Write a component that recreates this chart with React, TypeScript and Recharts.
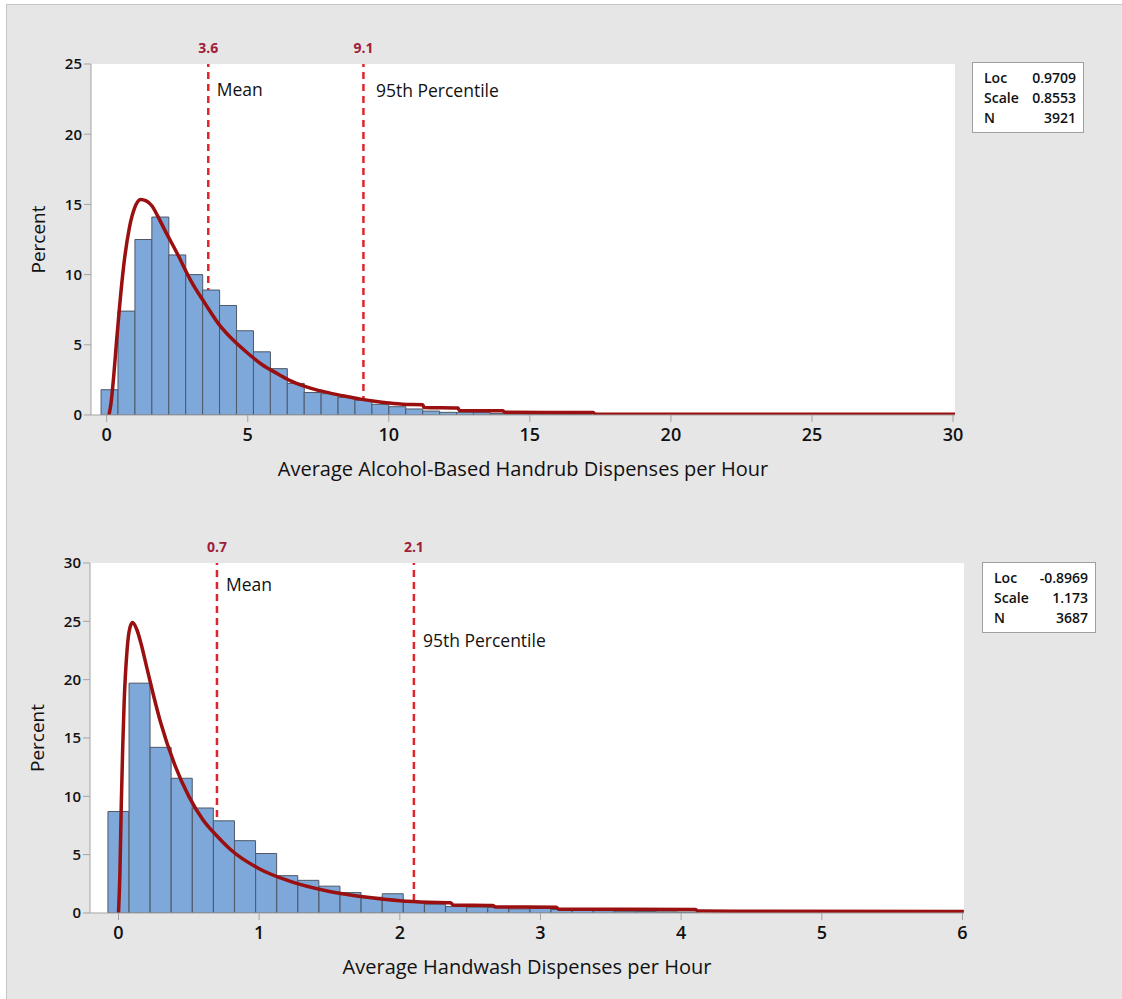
import React from 'react';
import { ComposedChart, Bar, Line, XAxis, YAxis, ReferenceLine, CartesianGrid, Label } from 'recharts';

const FONT = '"Open Sans", "Noto Sans", "DejaVu Sans", sans-serif';

// ---------- Panel 1: alcohol-based handrub ----------
const handrubBinMids = [0.1, 0.7, 1.3, 1.9, 2.5, 3.1, 3.7, 4.3, 4.9, 5.5, 6.1, 6.7, 7.3, 7.9, 8.5, 9.1, 9.7, 10.3, 10.9, 11.5, 12.1, 12.7, 13.3, 13.9, 14.5, 15.1, 15.7, 16.3, 16.9];
const handrubPercent = [1.8, 7.4, 12.5, 14.1, 11.4, 10.0, 8.9, 7.8, 6.0, 4.5, 3.3, 2.25, 1.6, 1.52, 1.25, 1.05, 0.76, 0.59, 0.43, 0.28, 0.19, 0.19, 0.17, 0.1, 0.08, 0.06, 0.05, 0.04, 0.03];
const handrubFitX = [0.08, 0.15, 0.25, 0.35, 0.45, 0.6, 0.8, 1.0, 1.2, 1.4, 1.6, 1.8, 2.0, 2.5, 3.0, 3.5, 4.0, 4.5, 5.0, 5.5, 6.0, 6.5, 7.0, 7.5, 8.0, 8.5, 9.0, 9.5, 10.0, 10.5, 11.2, 11.25, 12.45, 12.5, 14.05, 14.1, 17.25, 17.3, 30.07];
const handrubFitY = [0, 0.8, 2.8, 5.3, 7.6, 10.6, 13.3, 14.8, 15.35, 15.25, 14.9, 14.2, 13.4, 11.5, 9.5, 7.9, 6.4, 5.3, 4.4, 3.6, 3.0, 2.45, 2.05, 1.75, 1.52, 1.32, 1.13, 0.98, 0.86, 0.77, 0.73, 0.53, 0.5, 0.32, 0.3, 0.2, 0.17, 0.07, 0.05];
const handrubXTicks = [0, 5, 10, 15, 20, 25, 30];
const handrubYTicks = [0, 5, 10, 15, 20, 25];
const handrubMean = 3.6;
const handrubP95 = 9.1;
const handrubStatLabels = ['Loc', 'Scale', 'N'];
const handrubStatValues = ['0.9709', '0.8553', '3921'];

// ---------- Panel 2: handwash ----------
const handwashBinMids = [0, 0.15, 0.3, 0.45, 0.6, 0.75, 0.9, 1.05, 1.2, 1.35, 1.5, 1.65, 1.8, 1.95, 2.1, 2.25, 2.4, 2.55, 2.7, 2.85, 3.0, 3.15, 3.3, 3.45, 3.6, 3.75, 3.9, 4.05];
const handwashPercent = [8.7, 19.7, 14.2, 11.55, 9.0, 7.9, 6.2, 5.1, 3.2, 2.8, 2.3, 1.75, 1.35, 1.65, 0.9, 0.75, 0.55, 0.5, 0.48, 0.35, 0.4, 0.3, 0.22, 0.2, 0.15, 0.12, 0.1, 0.08];
const handwashFitX = [0, 0.01, 0.02, 0.03, 0.04, 0.06, 0.08, 0.1, 0.13, 0.16, 0.2, 0.25, 0.3, 0.4, 0.5, 0.6, 0.7, 0.8, 1.0, 1.2, 1.5, 1.8, 2.0, 2.2, 2.36, 2.38, 2.66, 2.68, 3.11, 3.13, 4.1, 4.12, 6.01];
const handwashFitY = [0, 3.4, 9.4, 14.2, 18.0, 22.4, 24.4, 24.9, 24.3, 23.1, 21.1, 18.6, 16.3, 12.7, 10.0, 8.0, 6.6, 5.4, 3.8, 2.8, 1.85, 1.3, 1.05, 0.92, 0.88, 0.68, 0.64, 0.52, 0.49, 0.33, 0.3, 0.17, 0.12];
const handwashXTicks = [0, 1, 2, 3, 4, 5, 6];
const handwashYTicks = [0, 5, 10, 15, 20, 25, 30];
const handwashMean = 0.7;
const handwashP95 = 2.1;
const handwashStatLabels = ['Loc', 'Scale', 'N'];
const handwashStatValues = ['-0.8969', '1.173', '3687'];

const BAR_FILL = '#7ea7da';
const BAR_STROKE = '#4e5866';
const FIT_COLOR = '#9a0f10';
const REF_COLOR = '#e0262c';
const REF_TEXT = '#a0203a';
const AXIS_COLOR = '#a3a3a3';

type PanelProps = {
  width: number;
  height: number;
  margin: { top: number; right: number; bottom: number; left: number };
  mids: number[];
  pct: number[];
  fitX: number[];
  fitY: number[];
  xDomain: [number, number];
  yDomain: [number, number];
  xTicks: number[];
  yTicks: number[];
  xTitle: string;
  mean: number;
  p95: number;
  meanLabel: { dx: number; dy: number };
  p95Label: { dx: number; dy: number };
};

const refLabel = (value: string, text: string, dx: number, dy: number) => (props: any) => {
  const vb = props.viewBox || {};
  const x = vb.x ?? 0;
  const y = vb.y ?? 0;
  return (
    <g>
      <text x={x} y={y - 11} textAnchor="middle" fill={REF_TEXT} fontSize={14} fontWeight={700} fontFamily={FONT}>
        {value}
      </text>
      <text x={x + dx} y={y + dy} fill="#111" fontSize={17.5} fontFamily={FONT}>
        {text}
      </text>
    </g>
  );
};

function HistPanel(p: PanelProps) {
  const barData = p.mids.map((m, i) => ({ mid: m, pct: p.pct[i] }));
  const fitData = p.fitX.map((x, i) => ({ x, y: p.fitY[i] }));
  return (
    <ComposedChart width={p.width} height={p.height} data={barData} margin={p.margin} barCategoryGap={0} barGap={0}>
      <CartesianGrid horizontal={false} vertical={false} fill="#ffffff" />
      <XAxis xAxisId="bins" dataKey="mid" type="number" domain={p.xDomain} allowDataOverflow hide height={0} />
      <XAxis
        xAxisId="main"
        dataKey="x"
        type="number"
        domain={p.xDomain}
        allowDataOverflow
        ticks={p.xTicks}
        interval={0}
        height={62}
        tickSize={7}
        tickMargin={6}
        stroke={AXIS_COLOR}
        tick={{ fontSize: 18, fill: '#111', fontFamily: FONT, fontWeight: 600 }}
      >
        <Label value={p.xTitle} position="insideBottom" offset={1} style={{ fontSize: 20, fill: '#111', fontFamily: FONT, fontWeight: 500 }} />
      </XAxis>
      <XAxis xAxisId="top" orientation="top" type="number" domain={p.xDomain} allowDataOverflow height={0} tick={false} tickLine={false} stroke={AXIS_COLOR} />
      <YAxis
        type="number"
        domain={p.yDomain}
        allowDataOverflow
        ticks={p.yTicks}
        interval={0}
        width={61}
        tickSize={7}
        tickMargin={2}
        stroke={AXIS_COLOR}
        tick={{ fontSize: 15, fill: '#111', fontFamily: FONT, fontWeight: 600 }}
      >
        <Label value="Percent" angle={-90} position="insideLeft" offset={8} style={{ textAnchor: 'middle', fontSize: 19, fill: '#111', fontFamily: FONT, fontWeight: 500 }} />
      </YAxis>
      <YAxis yAxisId="right" orientation="right" type="number" domain={[0, 1]} width={0} tick={false} tickLine={false} stroke={AXIS_COLOR} />
      <ReferenceLine
        xAxisId="main"
        x={p.mean}
        stroke={REF_COLOR}
        strokeWidth={2.5}
        strokeDasharray="7 5"
        zIndex={250}
        label={refLabel(String(p.mean), 'Mean', p.meanLabel.dx, p.meanLabel.dy)}
      />
      <ReferenceLine
        xAxisId="main"
        x={p.p95}
        stroke={REF_COLOR}
        strokeWidth={2.5}
        strokeDasharray="7 5"
        zIndex={250}
        label={refLabel(String(p.p95), '95th Percentile', p.p95Label.dx, p.p95Label.dy)}
      />
      <Bar xAxisId="bins" dataKey="pct" fill={BAR_FILL} stroke={BAR_STROKE} strokeWidth={1} isAnimationActive={false} />
      <Line
        xAxisId="main"
        data={fitData}
        dataKey="y"
        type="monotone"
        stroke={FIT_COLOR}
        strokeWidth={3.5}
        dot={false}
        activeDot={false}
        isAnimationActive={false}
      />
    </ComposedChart>
  );
}

function StatsBox({ left, top, width, labels, values }: { left: number; top: number; width: number; labels: string[]; values: string[] }) {
  return (
    <div
      style={{
        position: 'absolute',
        left,
        top,
        width,
        height: 71,
        boxSizing: 'border-box',
        background: '#fff',
        border: '1px solid #a0a0a0',
        padding: '5px 7px 0 11px',
        fontFamily: FONT,
        fontSize: 14,
        fontWeight: 600,
        color: '#111',
        lineHeight: '20px',
      }}
    >
      {labels.map((l, i) => (
        <div key={l} style={{ display: 'flex', justifyContent: 'space-between' }}>
          <span>{l}</span>
          <span>{values[i]}</span>
        </div>
      ))}
    </div>
  );
}

export default function App() {
  return (
    <div style={{ position: 'absolute', left: 0, top: 0, width: 1122, height: 999, background: '#ffffff', overflow: 'hidden' }}>
      <div
        style={{
          position: 'absolute',
          left: 6,
          top: 4,
          width: 1116,
          height: 995,
          boxSizing: 'border-box',
          background: '#e6e6e6',
          borderLeft: '1px solid #c4c4c4',
          borderTop: '1px solid #c4c4c4',
        }}
      />
      <div style={{ position: 'absolute', left: 0, top: 0 }}>
        <HistPanel
          width={1122}
          height={500}
          margin={{ top: 64, right: 167, bottom: 23, left: 30 }}
          mids={handrubBinMids}
          pct={handrubPercent}
          fitX={handrubFitX}
          fitY={handrubFitY}
          xDomain={[-0.557, 30.07]}
          yDomain={[0, 25]}
          xTicks={handrubXTicks}
          yTicks={handrubYTicks}
          xTitle="Average Alcohol-Based Handrub Dispenses per Hour"
          mean={handrubMean}
          p95={handrubP95}
          meanLabel={{ dx: 8.5, dy: 31.5 }}
          p95Label={{ dx: 12.5, dy: 32.5 }}
        />
      </div>
      <div style={{ position: 'absolute', left: 0, top: 500 }}>
        <HistPanel
          width={1122}
          height={499}
          margin={{ top: 63, right: 158, bottom: 24, left: 29 }}
          mids={handwashBinMids}
          pct={handwashPercent}
          fitX={handwashFitX}
          fitY={handwashFitY}
          xDomain={[-0.2026, 6.0107]}
          yDomain={[0, 30]}
          xTicks={handwashXTicks}
          yTicks={handwashYTicks}
          xTitle="Average Handwash Dispenses per Hour"
          mean={handwashMean}
          p95={handwashP95}
          meanLabel={{ dx: 9, dy: 27.5 }}
          p95Label={{ dx: 9, dy: 83.5 }}
        />
      </div>
      <StatsBox left={972} top={62} width={112} labels={handrubStatLabels} values={handrubStatValues} />
      <StatsBox left={982} top={562} width={114} labels={handwashStatLabels} values={handwashStatValues} />
    </div>
  );
}
